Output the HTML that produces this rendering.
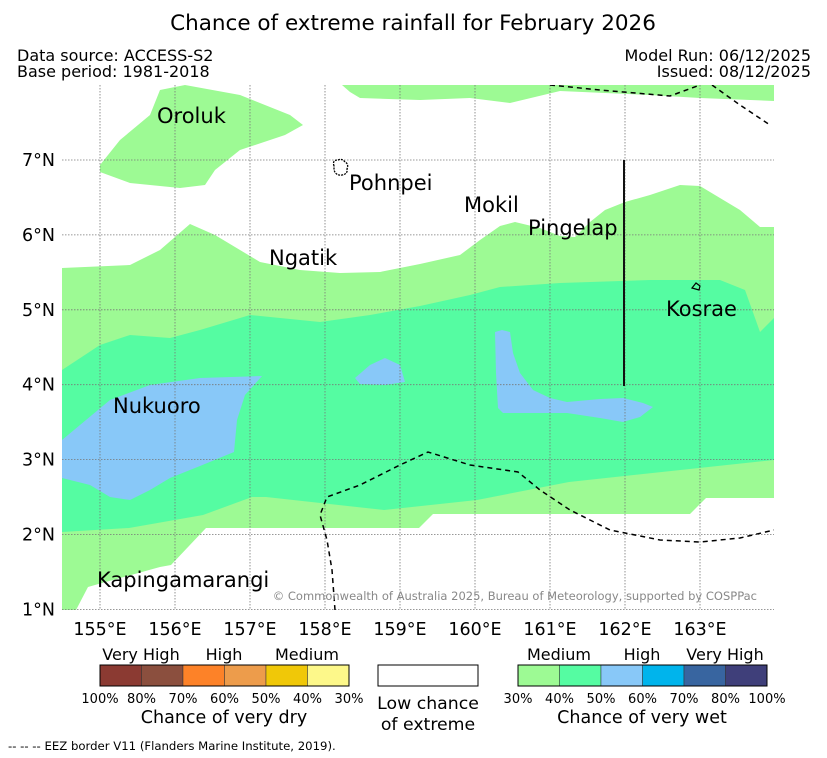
<!DOCTYPE html>
<html><head><meta charset="utf-8"><style>
body{margin:0;background:#fff;width:827px;height:758px;overflow:hidden;font-family:"DejaVu Sans","Liberation Sans",sans-serif;}
svg{display:block}
</style></head><body>
<svg id="chart" width="827" height="758" xmlns="http://www.w3.org/2000/svg" font-family="DejaVu Sans, Liberation Sans, sans-serif">
<text x="413" y="30" font-size="21.5" text-anchor="middle">Chance of extreme rainfall for February 2026</text>
<text x="17" y="61" font-size="16">Data source: ACCESS-S2</text>
<text x="17" y="77" font-size="16">Base period: 1981-2018</text>
<text x="811" y="61" font-size="16" text-anchor="end">Model Run: 06/12/2025</text>
<text x="811" y="77" font-size="16" text-anchor="end">Issued: 08/12/2025</text>
<g id="map"></g>
<g id="legend"></g>
</svg>
<script>
const lonTicks=[155,156,157,158,159,160,161,162,163];
const latTicks=[7,6,5,4,3,2,1];
const X0=62,X1=774,Y0=85,Y1=610;
function px(lon){return 100+(lon-155)*75;}
function py(lat){return 160+(7-lat)*74.9;}
function lon(x){return 155+(x-100)/75;}
function lat(y){return 7-(y-160)/74.9;}
const toLL=a=>a.map(p=>[lon(p[0]),lat(p[1])]);
const lightGreenAreas=[
 toLL([[100,165],[120,140],[150,115],[160,90],[185,85],[240,95],[290,115],[303,125],[285,135],[240,150],[215,170],[205,185],[180,188],[130,183],[100,172]]),
 toLL([[342,85],[774,85],[774,101],[700,98],[650,95],[560,91],[510,103],[470,98],[420,100],[360,98],[350,92]]),
 toLL([[62,268],[130,265],[160,250],[190,224],[215,235],[260,262],[300,270],[340,273],[380,272],[420,264],[460,255],[480,240],[500,226],[515,222],[540,228],[560,236],[575,237],[590,222],[605,210],[625,202],[650,195],[680,185],[700,186],[740,210],[760,227],[774,227],[774,498],[706,498],[690,514],[433,514],[419,528],[206,528],[171,565],[160,567],[102,583],[88,587],[76,610],[62,610]])
];
const greenAreas=[
 toLL([[62,370],[100,345],[130,335],[170,338],[200,330],[250,315],[300,320],[320,322],[370,315],[420,306],[470,295],[500,287],[560,283],[650,280],[720,280],[745,290],[760,332],[774,318],[774,460],[569,482],[477,500],[384,510],[266,497],[252,497],[203,515],[129,528],[62,532]])
];
const blueAreas=[
 toLL([[62,440],[80,425],[110,400],[150,385],[200,378],[262,376],[245,395],[237,420],[234,452],[200,466],[170,478],[150,490],[130,500],[110,497],[90,485],[62,478]]),
 toLL([[355,378],[370,365],[385,358],[400,365],[405,382],[385,385],[360,384]]),
 toLL([[495,332],[502,330],[510,332],[513,353],[520,373],[533,390],[550,398],[567,402],[600,399],[623,398],[643,403],[653,407],[640,417],[623,422],[600,418],[567,413],[533,413],[503,413],[498,408],[496,373]])
];
const eezLines=[
 toLL([[335,610],[332,570],[327,540],[320,515],[327,497],[360,485],[400,465],[428,452],[470,465],[518,472],[540,490],[570,510],[610,530],[660,540],[700,542],[740,538],[774,530]]),
 toLL([[550,85],[600,90],[670,96],[700,85]]),
 toLL([[712,85],[740,105],[770,125]])
];
const places=[["Oroluk",157,123],["Pohnpei",349,190],["Mokil",464,212],["Pingelap",528,235],["Ngatik",269,265],["Kosrae",666,316],["Nukuoro",113,413],["Kapingamarangi",97,587]];
const NS="http://www.w3.org/2000/svg";
const map=document.getElementById('map');
function mk(t,a,parent){const e=document.createElementNS(NS,t);for(const k in a)e.setAttribute(k,a[k]);(parent||map).appendChild(e);return e;}
const defs=mk('defs',{});const cp=mk('clipPath',{id:'clip'},defs);mk('rect',{x:X0,y:Y0,width:X1-X0,height:Y1-Y0},cp);
const g=mk('g',{'clip-path':'url(#clip)'});
function poly(arr,fill,name){const e=mk('polygon',{points:arr.map(p=>px(p[0])+','+py(p[1])).join(' '),fill:fill},g);

}
lightGreenAreas.forEach((a,i)=>poly(a,'#9dfa94','medium-wet-area-'+i));
greenAreas.forEach((a,i)=>poly(a,'#55fca2','medium-high-wet-area-'+i));
blueAreas.forEach((a,i)=>poly(a,'#88c8f8','high-wet-area-'+i));
lonTicks.forEach(v=>{const l=mk('line',{x1:px(v),x2:px(v),y1:Y0,y2:Y1,stroke:'#777','stroke-width':0.8,'stroke-dasharray':'1.5,1.5'},g);


const t=mk('text',{x:px(v),y:635,'font-size':17.5,'text-anchor':'middle'});t.textContent=v+'°E';

});
latTicks.forEach(v=>{const l=mk('line',{x1:X0,x2:X1,y1:py(v),y2:py(v),stroke:'#777','stroke-width':0.8,'stroke-dasharray':'1.5,1.5'},g);


const t=mk('text',{x:55,y:py(v)+6,'font-size':17.5,'text-anchor':'end'});t.textContent=v+'°N';

});
eezLines.forEach(a=>{const e=mk('polyline',{points:a.map(p=>px(p[0])+','+py(p[1])).join(' '),fill:'none',stroke:'#000','stroke-width':1.5,'stroke-dasharray':'5,4'},g);

});
const kl=mk('line',{x1:624,x2:624,y1:160,y2:386,stroke:'#111','stroke-width':2},g);


const pi=mk('path',{d:'M334,166 q-2,-6 4,-6 q4,-2 7,2 q4,2 2,7 q1,5 -5,6 q-6,1 -8,-5z',fill:'none',stroke:'#000','stroke-width':1.3,'stroke-dasharray':'2,1'},g);


const ki=mk('path',{d:'M692,288 l4,-5 l4,3 l-1,4z',fill:'none',stroke:'#000','stroke-width':1.2},g);


places.forEach(p=>{const t=mk('text',{x:p[1],y:p[2],'font-size':21});t.textContent=p[0];

});
const cr=mk('text',{x:757,y:600,'font-size':11.5,fill:'#888','text-anchor':'end'});cr.textContent='© Commonwealth of Australia 2025, Bureau of Meteorology, supported by COSPPac';


const leg=document.getElementById('legend');
const dryColors=['#8b3a32','#8b4f3e','#fd8228','#ed9c4b','#f0c808','#fdf88a'];
const wetColors=['#9dfa94','#55fca2','#88c8f8','#00b4ec','#3865a0','#3f3f7a'];
const dryTicks=['100%','80%','70%','60%','50%','40%','30%'];
const wetTicks=['30%','40%','50%','60%','70%','80%','100%'];
function bar(x0,colors,ticks,cats,label,name){
 colors.forEach((c,i)=>{const r=mk('rect',{x:x0+i*41.5,y:665,width:41.5,height:21,fill:c,stroke:'#333','stroke-width':0.5},leg);
 
 });
 mk('rect',{x:x0,y:665,width:249,height:21,fill:'none',stroke:'#000','stroke-width':1},leg);
 ticks.forEach((t,i)=>{const e=mk('text',{x:x0+i*41.5,y:703,'font-size':13,'text-anchor':'middle'},leg);e.textContent=t;
 
 });
 cats.forEach(c=>{const e=mk('text',{x:x0+c[1],y:660,'font-size':16,'text-anchor':'middle'},leg);e.textContent=c[0];
 
 });
 const e=mk('text',{x:x0+124,y:723,'font-size':17.5,'text-anchor':'middle'},leg);e.textContent=label;
 
 
}
bar(100,dryColors,dryTicks,[['Very High',41],['High',124],['Medium',207]],'Chance of very dry','dry-colorbar');
bar(518,wetColors,wetTicks,[['Medium',41],['High',124],['Very High',207]],'Chance of very wet','wet-colorbar');
const wb=mk('rect',{x:378,y:665,width:100,height:21,fill:'#fff',stroke:'#000','stroke-width':1},leg);


[['Low chance',709],['of extreme',730]].forEach(a=>{const e=mk('text',{x:428,y:a[1],'font-size':17.3,'text-anchor':'middle'},leg);e.textContent=a[0];

});
const ez=mk('text',{x:8,y:750,'font-size':11.7},leg);ez.textContent='--  --  -- EEZ border V11 (Flanders Marine Institute, 2019).';


</script>
</body></html>
